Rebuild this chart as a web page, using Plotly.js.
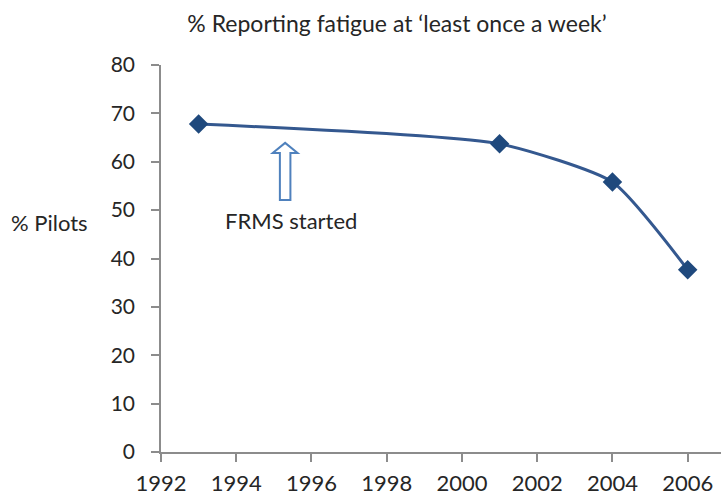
<!DOCTYPE html>
<html>
<head>
<meta charset="utf-8">
<script src="https://cdn.plot.ly/plotly-3.0.1.min.js"></script>
<style>html,body{margin:0;padding:0;background:#fff;}#chart{width:721px;height:495px;}</style>
</head>
<body>
<div id="chart"></div>
<script>
const years = [1993, 2001, 2004, 2006];
const pilotsPct = [67.8, 63.7, 55.8, 37.7];
const xTicks = [1992, 1994, 1996, 1998, 2000, 2002, 2004, 2006];
const yTicks = [0, 10, 20, 30, 40, 50, 60, 70, 80];
const frmsYear = 1995.3;

const FONT = 'Lato, "Open Sans", sans-serif';
const trace = {
  x: years, y: pilotsPct, type: 'scatter', mode: 'lines+markers',
  line: {shape: 'spline', smoothing: 0.55, color: '#34588f', width: 3},
  marker: {symbol: 'diamond', size: 15, color: '#1f497d'},
  hoverinfo: 'x+y'
};

const hw = 0.33, sw = 0.14;
const arrowPath = `M ${frmsYear},63.9 L ${frmsYear+hw},61.8 L ${frmsYear+sw},61.8 L ${frmsYear+sw},52.1 L ${frmsYear-sw},52.1 L ${frmsYear-sw},61.8 L ${frmsYear-hw},61.8 Z`;

const layout = {
  width: 721, height: 495,
  margin: {l: 161, r: 0, t: 65, b: 43, pad: 0},
  paper_bgcolor: '#fff', plot_bgcolor: '#fff',
  showlegend: false,
  font: {family: FONT, color: '#262626'},
  title: {text: '% Reporting fatigue at ‘least once a week’', font: {size: 23, color: '#262626', family: FONT},
          x: 397/721, xref: 'container', xanchor: 'center', y: 1 - 24/495, yref: 'container', yanchor: 'middle'},
  xaxis: {range: [1992, 2006.886], tickvals: xTicks, ticktext: xTicks.map(String),
          showgrid: false, zeroline: false, showline: true, linecolor: '#8c8c8c', linewidth: 1.5,
          ticks: 'outside', ticklen: 8, tickcolor: '#8c8c8c', tickwidth: 1.5, ticklabelstandoff: 3,
          tickfont: {size: 22, color: '#262626'}, fixedrange: true},
  yaxis: {range: [0, 80], tickvals: yTicks, ticktext: yTicks.map(String),
          showgrid: false, zeroline: false, showline: true, linecolor: '#8c8c8c', linewidth: 1.5,
          ticks: 'outside', ticklen: 8, tickcolor: '#8c8c8c', tickwidth: 1.5, ticklabelstandoff: 12,
          tickfont: {size: 21, color: '#262626'}, fixedrange: true},
  shapes: [{type: 'path', xref: 'x', yref: 'y', path: arrowPath,
            line: {color: '#4f81bd', width: 2}, fillcolor: '#ffffff'}],
  annotations: [
    {text: 'FRMS started', xref: 'x', yref: 'y', x: 1992 + (291.5 - 161) / 37.64, y: (451.7 - 220) / 4.834, showarrow: false,
     font: {size: 22, color: '#262626'}, xanchor: 'center', yanchor: 'middle'},
    {text: '% Pilots', xref: 'paper', yref: 'y', x: (49 - 161) / 560, y: (451.7 - 222) / 4.834, showarrow: false,
     font: {size: 22, color: '#262626'}, xanchor: 'center', yanchor: 'middle'}
  ]
};
Plotly.newPlot('chart', [trace], layout, {displayModeBar: false});
</script>
</body>
</html>
